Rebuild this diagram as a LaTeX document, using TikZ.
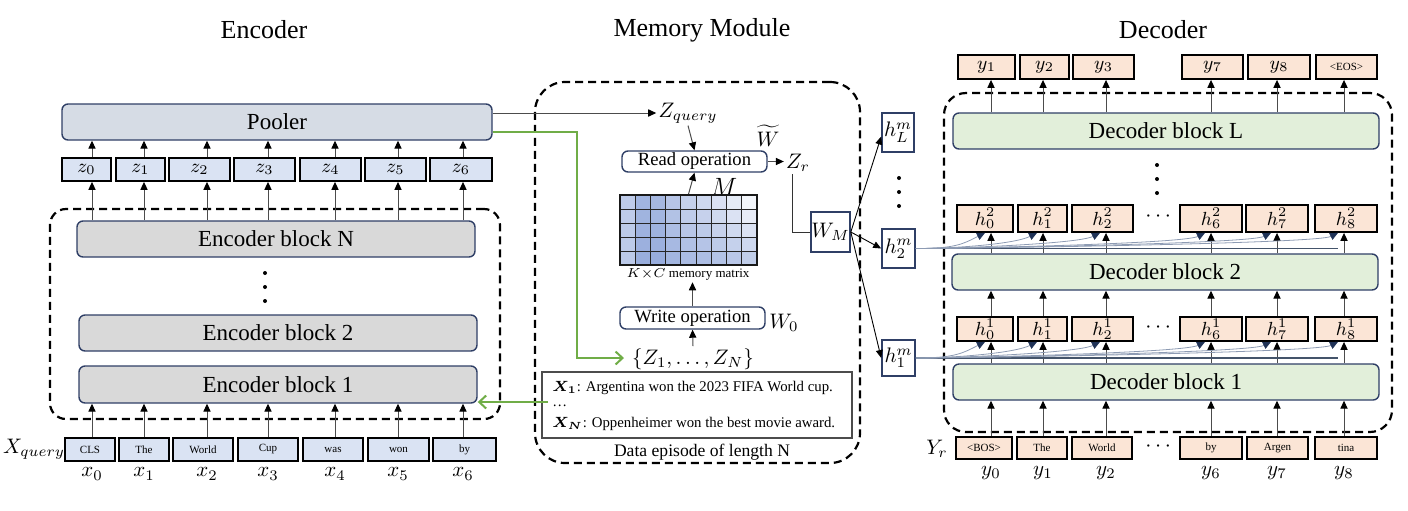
\RequirePackage{fix-cm}
\documentclass[tikz,border=0pt]{standalone}
\usepackage{amsmath}
\usepackage{bm}
\usepackage{fontspec}
\setmainfont{Liberation Serif}
\usetikzlibrary{arrows.meta}
\definecolor{bdr}{HTML}{2F3F66}
\definecolor{poolc}{HTML}{D6DCE5}
\definecolor{encc}{HTML}{D9D9D9}
\definecolor{decc}{HTML}{E2EFDA}
\definecolor{zc}{HTML}{DAE3F3}
\definecolor{pc}{HTML}{FBE5D6}
\definecolor{grn}{HTML}{70AD47}
\definecolor{mB}{HTML}{8AA2D8}
\definecolor{curvc}{HTML}{8D9BB3}
\definecolor{tipc}{HTML}{1F3256}
\definecolor{mlinec}{HTML}{44546A}
\newcommand\bx[7]{\node[#2, inner sep=0pt, minimum width={(#5-#3)*0.5pt}, minimum height={(#6-#4)*0.5pt}] (#1) at ({(#3+#5)/2},{(#4+#6)/2}) {#7};}
\begin{document}
\begin{tikzpicture}[x=0.5pt,y=-0.5pt,
  title/.style={font=\fontsize{13}{15}\selectfont},
  blk/.style={draw=bdr, line width=0.7pt, rounded corners=3pt, font=\fontsize{11.5}{13}\selectfont},
  pools/.style={blk, fill=poolc},
  encs/.style={blk, fill=encc},
  decs/.style={blk, fill=decc},
  zbox/.style={draw=black, line width=0.9pt, fill=zc, font=\fontsize{9.5}{10}\selectfont},
  ebox/.style={draw=black, line width=0.9pt, fill=zc, font=\fontsize{5.5}{6}\selectfont},
  pbox/.style={draw=black, line width=0.9pt, fill=pc, font=\fontsize{9.5}{10}\selectfont},
  ptok/.style={draw=black, line width=0.9pt, fill=pc, font=\fontsize{5.5}{6}\selectfont},
  opbox/.style={draw=bdr, line width=0.7pt, rounded corners=3pt, fill=white, font=\fontsize{9.3}{11}\selectfont},
  hmbox/.style={draw=bdr, line width=0.8pt, fill=white, font=\fontsize{10.5}{12}\selectfont},
  dbox/.style={draw=black, dash pattern=on 4pt off 2.5pt, line width=1.1pt},
  mlab/.style={inner sep=1pt, font=\fontsize{10.5}{12}\selectfont},
  arr/.style={draw=black!70, line width=0.5pt, -{Triangle[length=4pt,width=3.6pt,color=black]}},
  thinarr/.style={draw=black, line width=0.45pt, -{Triangle[length=4pt,width=3.4pt,color=black]}},
  curv/.style={draw=curvc, line width=0.4pt, -{Triangle[length=4pt,width=3.6pt,color=tipc]}},
  mline/.style={draw=mlinec, line width=0.7pt},
  grnl/.style={draw=grn, line width=1pt, -{Straight Barb[length=3.5pt,width=6.5pt,line width=1pt]}},
  dotc/.style={fill=black}
]
\useasboundingbox (0,0) rectangle (1408,510);

% ---------------- titles
\node[title] (tEnc) at (264,30) {Encoder};
\node[title] (tMem) at (702,30) {Memory Module};
\node[title] (tDec) at (1163,30) {Decoder};

% ---------------- encoder
\foreach \i/\x in {0/92,1/144,2/207,3/268,4/335,5/398,6/463} {\coordinate (ec\i) at (\x,0);}
\bx{encd}{dbox, rounded corners=8pt}{50}{209}{500}{419}{}
\bx{pool}{pools}{62}{104}{492}{140}{Pooler}
\foreach \n/\a/\b in {0/62/111,1/116/165,2/169/230,3/234/295,4/300/361,5/365/426,6/430/492} {\bx{z\n}{zbox}{\a}{158}{\b}{181}{$z_{\n}$}}
\bx{encN}{encs}{77}{221}{475}{257}{Encoder block N}
\bx{enc2}{encs}{79}{315}{477}{351}{Encoder block 2}
\bx{enc1}{encs}{79}{366}{477}{403}{Encoder block 1}
\foreach \yy in {273,287,301} {\fill[dotc] (265,\yy) circle (1pt);}
\bx{t0}{ebox}{65}{438}{115}{461}{CLS}
\bx{t1}{ebox}{119}{438}{169}{461}{The}
\bx{t2}{ebox}{173}{438}{233}{461}{World}
\bx{t3}{ebox}{238}{438}{298}{461}{Cup}
\bx{t4}{ebox}{303}{438}{363}{461}{was}
\bx{t5}{ebox}{368}{438}{429}{461}{won}
\bx{t6}{ebox}{433}{438}{496}{461}{by}
\node[mlab] (xq) at (34,449) {$X_{query}$};
\foreach \i/\x in {0/92,1/144,2/207,3/268,4/335,5/398,6/463} {\node[mlab] (xl\i) at (\x,474) {$x_{\i}$};}
\foreach \i in {0,...,6} {
  \draw[arr] (t\i.north -| ec\i) -- (enc1.south -| ec\i);
  \draw[arr] (encN.north -| ec\i) -- (z\i.south -| ec\i);
  \draw[arr] (z\i.north -| ec\i) -- (pool.south -| ec\i);
}

% ---------------- memory module
\bx{memd}{dbox, rounded corners=15pt}{535}{82}{860}{463}{}
\node[mlab] (Zq) at (688,113) {$Z_{query}$};
\bx{read}{opbox}{622}{151}{767}{172}{Read operation}
\node[mlab] (Wt) at (768,136) {$\widetilde{W}$};
\node[mlab] (Zr) at (798,163) {$Z_r$};
\node[inner sep=0pt, font=\fontsize{12.5}{14}\selectfont] (Mlab) at (724,187) {$M$};
\foreach \c/\t in {0/55,1/80,2/76,3/62,4/50,5/42,6/32,7/22,8/10} {
  \foreach \r in {0,...,4} {
    \pgfmathtruncatemacro\p{min(95,\t+\r*(\c*1.3+0.5))}
    \fill[mB!\p!white] ({620+\c*137/9},{195+\r*14}) rectangle ({620+(\c+1)*137/9},{195+(\r+1)*14});
  }
}
\foreach \c in {1,...,8} {\draw[black!85, line width=0.5pt] ({620+\c*137/9},195) -- ({620+\c*137/9},265);}
\foreach \r in {1,...,4} {\draw[black!85, line width=0.5pt] (620,{195+\r*14}) -- (757,{195+\r*14});}
\bx{mat}{draw=black!90, line width=0.9pt}{620}{195}{757}{265}{}
\node[inner sep=1pt, font=\fontsize{6.5}{8}\selectfont] (kc) at (688,274) {$K{\times}C$ memory matrix};
\bx{write}{opbox}{620}{307}{765}{329}{Write operation}
\node[mlab] (W0) at (784,323) {$W_0$};
\node[mlab] (zs) at (693,359) {$\{Z_1,\dots,Z_N\}$};
\bx{ep}{draw=black!70, line width=0.6pt, fill=white}{542}{372}{852}{438}{}
\node[anchor=west, inner sep=0pt, font=\fontsize{7.4}{9}\selectfont] (ep1) at (552,388) {$\bm{X_1}$: Argentina won the 2023 FIFA World cup.};
\node[anchor=west, inner sep=0pt, font=\fontsize{7.4}{9}\selectfont] (ep2) at (552,406) {\dots};
\node[anchor=west, inner sep=0pt, font=\fontsize{7.4}{9}\selectfont] (ep3) at (552,424) {$\bm{X_N}$: Oppenheimer won the best movie award.};
\node[inner sep=0pt, font=\fontsize{8.8}{10}\selectfont] (dep) at (702,452) {Data episode of length N};

\draw[arr] (Zq.west -| pool.east) -- (Zq.west);
\draw[arr] (Zq.south) -- (read.north);
\draw[arr] (mat.north) -- (read.south);
\draw[arr] (read.east) -- (Zr.west |- read.east);
\draw[arr] (write.north) -- (write.north |- kc.south);
\draw[arr] (zs.north) -- (write.south);

% green connectors
\coordinate (g1) at (577,132);
\coordinate (g2) at (577,358);
\coordinate (gt) at (624,358);
\draw[grnl] ([yshift=-5pt]pool.east) -- (g1) -- (g2) -- (gt);
\coordinate (g3) at (548,402);
\draw[grnl] (g3) -- (g3 -| enc1.east);

% W_M and h^m
\bx{WM}{hmbox}{811}{212}{850}{252}{$W_M$}
\bx{hLm}{hmbox}{882}{113}{914}{152}{$h_L^m$}
\bx{h2m}{hmbox}{882}{229}{915}{268}{$h_2^m$}
\bx{h1m}{hmbox}{882}{340}{915}{376}{$h_1^m$}
\foreach \yy in {178,192,206} {\fill[dotc] (899,\yy) circle (1pt);}
\draw[black!80, line width=0.5pt] ([xshift=-3pt]Zr.south) |- (WM.west);
\draw[thinarr] (WM.east) -- ([yshift=-2pt]hLm.west);
\draw[thinarr] (WM.east) -- (h2m.west);
\draw[thinarr] (WM.east) -- (h1m.west);

% ---------------- decoder
\foreach \i/\x in {1/991,2/1043,3/1106,4/1211,5/1277,6/1344} {\coordinate (dc\i) at (\x,0); \coordinate (dt\i) at (\x-6,0);}
\bx{decd}{dbox, rounded corners=11pt}{944}{93}{1392}{432}{}
\bx{decL}{decs}{953}{113}{1379}{149}{Decoder block L}
\bx{dec2}{decs}{952}{254}{1378}{290}{Decoder block 2}
\bx{dec1}{decs}{953}{364}{1379}{400}{Decoder block 1}
\foreach \yy in {165,179,193} {\fill[dotc] (1157,\yy) circle (1pt);}

\bx{o1}{pbox}{958}{55}{1015}{79}{$y_1$}
\bx{o2}{pbox}{1020}{55}{1069}{79}{$y_2$}
\bx{o3}{pbox}{1073}{55}{1134}{79}{$y_3$}
\bx{o4}{pbox}{1182}{55}{1243}{79}{$y_7$}
\bx{o5}{pbox}{1248}{55}{1310}{79}{$y_8$}
\bx{o6}{ptok}{1316}{55}{1377}{79}{\textless{}EOS\textgreater{}}

\foreach \i/\a/\b/\s in {1/957/1013/0,2/1018/1067/1,3/1072/1133/2,4/1180/1242/6,5/1246/1308/7,6/1315/1377/8} {
  \bx{hb2\i}{pbox}{\a}{205}{\b}{232}{$h_{\s}^2$}
  \bx{hb1\i}{pbox}{\a}{317}{\b}{341}{$h_{\s}^1$}
}
\node[font=\fontsize{11}{12}\selectfont] (dd2) at (1160,217) {$\cdots$};
\node[font=\fontsize{11}{12}\selectfont] (dd1) at (1160,328) {$\cdots$};

\bx{d1}{ptok}{956}{437}{1012}{459}{\textless{}BOS\textgreater{}}
\bx{d2}{ptok}{1017}{437}{1067}{459}{The}
\bx{d3}{ptok}{1072}{437}{1132}{459}{World}
\bx{d4}{ptok}{1180}{437}{1242}{459}{by}
\bx{d5}{ptok}{1247}{437}{1308}{459}{Argen}
\bx{d6}{ptok}{1315}{437}{1377}{459}{tina}
\node[font=\fontsize{11}{12}\selectfont] (dd0) at (1160,447) {$\cdots$};
\node[mlab] (Yr) at (937,449) {$Y_r$};
\foreach \i/\x/\s in {1/991/0,2/1043/1,3/1106/2,4/1211/6,5/1277/7,6/1344/8} {\node[mlab] (yl\i) at (\x,473) {$y_{\s}$};}

\foreach \i in {1,...,6} {
  \draw[arr] (d\i.north -| dc\i) -- (dec1.south -| dc\i);
  \draw[arr] (dec1.north -| dc\i) -- (hb1\i.south -| dc\i);
  \draw[arr] (hb1\i.north -| dc\i) -- (dec2.south -| dc\i);
  \draw[arr] (dec2.north -| dc\i) -- (hb2\i.south -| dc\i);
  \draw[arr] (decL.north -| dc\i) -- (o\i.south -| dc\i);
}

% memory injection curves
\draw[mline] (h1m.east) -- (h1m.east -| dt6);
\draw[mline] (h2m.east) -- (h2m.east -| dt6);
\foreach \i in {1,...,6} {
  \draw[curv] (h1m.east) .. controls +(40,0) and +(-22,11) .. (hb1\i.south -| dt\i);
  \draw[curv] (h2m.east) .. controls +(40,0) and +(-22,11) .. (hb2\i.south -| dt\i);
}
\end{tikzpicture}
\end{document}
